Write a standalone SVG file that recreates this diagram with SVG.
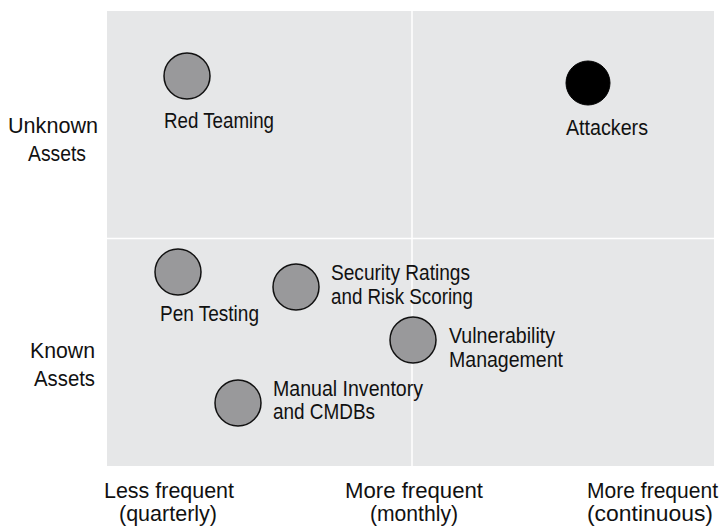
<svg xmlns="http://www.w3.org/2000/svg" width="724" height="530" viewBox="0 0 724 530">
<style>
text{font-family:"Liberation Sans",Arial,sans-serif;font-size:22px;fill:#111}
.dot{fill:#99999b;stroke:#111;stroke-width:1.5}
.blk{fill:#000;stroke:#000;stroke-width:1}
.div{stroke:#fff;stroke-width:1.5}
</style>
<rect x="107" y="11" width="607" height="455" fill="#e6e7e8"/>
<g id="connectors">
<line class="div" x1="412" y1="11" x2="412" y2="466"/>
<line class="div" x1="107" y1="238.5" x2="714" y2="238.5"/>
</g>
<g id="axis-y">
<text x="8" y="133" textLength="90" lengthAdjust="spacingAndGlyphs">Unknown</text>
<text x="28" y="161" textLength="58" lengthAdjust="spacingAndGlyphs">Assets</text>
<text x="30" y="358" textLength="65" lengthAdjust="spacingAndGlyphs">Known</text>
<text x="34" y="386" textLength="61" lengthAdjust="spacingAndGlyphs">Assets</text>
</g>
<g id="axis-x">
<text x="104" y="498" textLength="130" lengthAdjust="spacingAndGlyphs">Less frequent</text>
<text x="119" y="521" textLength="98" lengthAdjust="spacingAndGlyphs">(quarterly)</text>
<text x="345" y="498" textLength="138" lengthAdjust="spacingAndGlyphs">More frequent</text>
<text x="370" y="521" textLength="88" lengthAdjust="spacingAndGlyphs">(monthly)</text>
<text x="587" y="498" textLength="131" lengthAdjust="spacingAndGlyphs">More frequent</text>
<text x="587" y="521" textLength="126" lengthAdjust="spacingAndGlyphs">(continuous)</text>
</g>
<g id="red-teaming">
<circle class="dot" cx="187" cy="76" r="23"/>
<text x="164" y="128" textLength="110" lengthAdjust="spacingAndGlyphs">Red Teaming</text>
</g>
<g id="attackers">
<circle class="blk" cx="588" cy="83" r="22"/>
<text x="566" y="135" textLength="82" lengthAdjust="spacingAndGlyphs">Attackers</text>
</g>
<g id="pen-testing">
<circle class="dot" cx="178" cy="272" r="23"/>
<text x="160" y="321" textLength="99" lengthAdjust="spacingAndGlyphs">Pen Testing</text>
</g>
<g id="security-ratings">
<circle class="dot" cx="296" cy="287" r="23"/>
<text x="331" y="280" textLength="139" lengthAdjust="spacingAndGlyphs">Security Ratings</text>
<text x="331" y="304" textLength="142" lengthAdjust="spacingAndGlyphs">and Risk Scoring</text>
</g>
<g id="vulnerability-management">
<circle class="dot" cx="413" cy="340" r="23"/>
<text x="449" y="343" textLength="106" lengthAdjust="spacingAndGlyphs">Vulnerability</text>
<text x="449" y="367" textLength="114" lengthAdjust="spacingAndGlyphs">Management</text>
</g>
<g id="manual-inventory">
<circle class="dot" cx="238" cy="403" r="23"/>
<text x="273" y="396" textLength="150" lengthAdjust="spacingAndGlyphs">Manual Inventory</text>
<text x="273" y="419" textLength="102" lengthAdjust="spacingAndGlyphs">and CMDBs</text>
</g>
</svg>
